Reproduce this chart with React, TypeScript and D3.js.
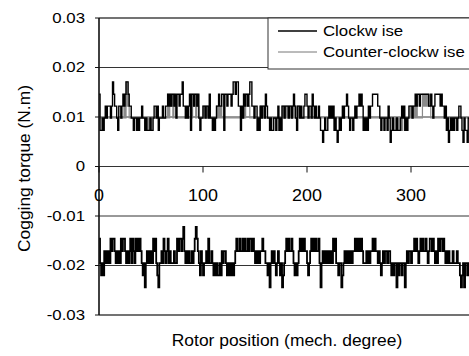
import React from "react";
import * as d3 from "d3";

// Rotor position (mech. degree), one sample per degree
const positions: number[] = d3.range(0, 361);

// Clockwise (upper band, black)
const cwUpper: number[] = [
  .0146,.0073,.0073,.0098,.0073,.0098,.0122,.0098,.0122,.0122,
  .0122,.0098,.0122,.0171,.0146,.0122,.0122,.0098,.0073,.0122,
  .0122,.0098,.0122,.0146,.0122,.0146,.0171,.0171,.0146,.0122,
  .0122,.0098,.0098,.0073,.0098,.0098,.0073,.0098,.0073,.0098,
  .0098,.0122,.0098,.0098,.0073,.0098,.0073,.0073,.0073,.0098,
  .0073,.0073,.0098,.0122,.0122,.0098,.0122,.0073,.0098,.0098,
  .0098,.0122,.0098,.0098,.0122,.0122,.0146,.0122,.0146,.0122,
  .0146,.0146,.0122,.0146,.0098,.0146,.0146,.0122,.0146,.0146,
  .0171,.0122,.0122,.0098,.0122,.0098,.0122,.0146,.0073,.0146,
  .0146,.0122,.0146,.0146,.0122,.0146,.0098,.0073,.0098,.0098,
  .0122,.0122,.0098,.0122,.0122,.0098,.0146,.0098,.0098,.0073,
  .0098,.0073,.0098,.0122,.0122,.0146,.0122,.0122,.0146,.0146,
  .0073,.0146,.0146,.0122,.0146,.0146,.0146,.0122,.0146,.0171,
  .0171,.0146,.0171,.0171,.0122,.0122,.0073,.0122,.0098,.0146,
  .0122,.0146,.0146,.0122,.0146,.0171,.0171,.0122,.0122,.0098,
  .0122,.0122,.0073,.0098,.0073,.0122,.0098,.0122,.0122,.0098,
  .0146,.0122,.0098,.0098,.0073,.0098,.0073,.0073,.0098,.0098,
  .0073,.0098,.0122,.0073,.0098,.0073,.0122,.0122,.0098,.0122,
  .0122,.0122,.0098,.0122,.0122,.0098,.0122,.0146,.0122,.0098,
  .0073,.0122,.0122,.0098,.0122,.0098,.0098,.0122,.0146,.0146,
  .0122,.0098,.0122,.0122,.0098,.0146,.0122,.0098,.0122,.0098,
  .0098,.0122,.0098,.0073,.0073,.0049,.0073,.0098,.0073,.0073,
  .0098,.0122,.0098,.0122,.0098,.0122,.0073,.0098,.0073,.0049,
  .0073,.0098,.0073,.0098,.0122,.0098,.0122,.0122,.0146,.0122,
  .0098,.0073,.0098,.0098,.0073,.0098,.0122,.0098,.0122,.0122,
  .0146,.0122,.0146,.0122,.0073,.0098,.0073,.0098,.0073,.0122,
  .0098,.0122,.0122,.0146,.0146,.0146,.0146,.0146,.0122,.0122,
  .0098,.0073,.0098,.0098,.0073,.0098,.0098,.0073,.0122,.0098,
  .0049,.0073,.0098,.0073,.0073,.0073,.0098,.0073,.0073,.0073,
  .0098,.0122,.0098,.0122,.0073,.0098,.0073,.0098,.0122,.0122,
  .0122,.0098,.0122,.0122,.0146,.0122,.0146,.0146,.0122,.0146,
  .0146,.0146,.0146,.0146,.0146,.0146,.0146,.0122,.0122,.0146,
  .0122,.0098,.0122,.0146,.0146,.0146,.0146,.0146,.0122,.0146,
  .0122,.0122,.0098,.0122,.0073,.0098,.0049,.0073,.0098,.0073,
  .0098,.0073,.0098,.0098,.0073,.0098,.0122,.0122,.0098,.0073,
  .0049,.0098,.0073,.0073,.0049,.0098,.0098,.0122,.0098,.0098,
  .0098,
];

// Counter-clockwise (upper band, grey)
const ccwUpper: number[] = [
  .0098,.0098,.0098,.0098,.0098,.0098,.0098,.0098,.0098,.0098,
  .0098,.0098,.0098,.0098,.0098,.0098,.0098,.0098,.0098,.0098,
  .0098,.0098,.0098,.0098,.0146,.0098,.0171,.0122,.0146,.0098,
  .0098,.0098,.0098,.0098,.0098,.0098,.0098,.0098,.0098,.0098,
  .0098,.0098,.0098,.0098,.0098,.0098,.0073,.0098,.0073,.0098,
  .0073,.0098,.0098,.0098,.0098,.0098,.0098,.0098,.0098,.0098,
  .0098,.0098,.0098,.0098,.0098,.0098,.0146,.0098,.0146,.0122,
  .0146,.0098,.0146,.0122,.0098,.0098,.0098,.0098,.0098,.0098,
  .0098,.0098,.0098,.0098,.0098,.0098,.0098,.0098,.0146,.0098,
  .0146,.0122,.0146,.0098,.0146,.0122,.0098,.0098,.0098,.0098,
  .0122,.0098,.0122,.0098,.0122,.0098,.0098,.0098,.0098,.0098,
  .0098,.0098,.0098,.0122,.0098,.0122,.0098,.0122,.0098,.0098,
  .0098,.0098,.0098,.0098,.0098,.0098,.0098,.0098,.0098,.0098,
  .0098,.0098,.0098,.0098,.0098,.0098,.0098,.0098,.0098,.0146,
  .0098,.0146,.0122,.0146,.0122,.0098,.0098,.0098,.0098,.0098,
  .0098,.0098,.0098,.0098,.0098,.0122,.0098,.0122,.0098,.0122,
  .0098,.0098,.0098,.0098,.0098,.0098,.0098,.0098,.0098,.0098,
  .0098,.0098,.0098,.0098,.0098,.0098,.0122,.0098,.0122,.0098,
  .0122,.0098,.0122,.0098,.0122,.0098,.0122,.0098,.0122,.0098,
  .0122,.0098,.0122,.0098,.0098,.0098,.0098,.0098,.0098,.0098,
  .0098,.0098,.0098,.0098,.0098,.0098,.0098,.0098,.0098,.0098,
  .0098,.0098,.0098,.0098,.0098,.0098,.0098,.0098,.0098,.0098,
  .0098,.0098,.0098,.0098,.0098,.0098,.0098,.0098,.0098,.0098,
  .0098,.0098,.0098,.0098,.0098,.0098,.0098,.0098,.0098,.0098,
  .0098,.0098,.0098,.0098,.0098,.0098,.0098,.0098,.0098,.0098,
  .0098,.0098,.0098,.0098,.0098,.0098,.0098,.0098,.0098,.0098,
  .0098,.0098,.0098,.0098,.0098,.0098,.0098,.0098,.0098,.0098,
  .0098,.0098,.0098,.0098,.0098,.0098,.0098,.0098,.0098,.0098,
  .0098,.0098,.0098,.0073,.0098,.0073,.0098,.0073,.0098,.0073,
  .0098,.0073,.0098,.0098,.0098,.0098,.0098,.0098,.0098,.0122,
  .0098,.0122,.0098,.0122,.0098,.0122,.0098,.0098,.0098,.0098,
  .0098,.0146,.0122,.0146,.0122,.0146,.0122,.0146,.0122,.0098,
  .0098,.0098,.0098,.0098,.0098,.0098,.0098,.0098,.0098,.0098,
  .0098,.0098,.0098,.0098,.0098,.0098,.0098,.0098,.0098,.0098,
  .0098,.0098,.0098,.0098,.0098,.0098,.0098,.0098,.0098,.0098,
  .0098,.0098,.0098,.0098,.0098,.0098,.0098,.0098,.0098,.0098,
  .0098,
];

// Lower band (black)
const cwLower: number[] = [
  -.0146,-.0195,-.022,-.0195,-.022,-.0171,-.0195,-.0171,-.0195,-.0171,
  -.0195,-.0146,-.0171,-.0146,-.0146,-.0171,-.0195,-.0171,-.0195,-.0171,
  -.0195,-.0146,-.0171,-.0146,-.0146,-.0171,-.0195,-.0171,-.0195,-.0171,
  -.0146,-.0195,-.0146,-.0171,-.0195,-.0146,-.0171,-.0146,-.0171,-.0146,
  -.0171,-.0195,-.022,-.0195,-.0244,-.0195,-.0171,-.0195,-.0171,-.0195,
  -.0171,-.0195,-.0146,-.0171,-.0146,-.0195,-.022,-.0244,-.0195,-.0195,
  -.0171,-.0195,-.0146,-.0171,-.0195,-.0171,-.0146,-.0195,-.0171,-.0195,
  -.0195,-.0195,-.0171,-.0195,-.0195,-.0146,-.0171,-.0146,-.0146,-.0171,
  -.0146,-.0122,-.0171,-.0195,-.0171,-.0195,-.0171,-.0195,-.0195,-.0171,
  -.0195,-.0171,-.0146,-.0122,-.0146,-.0171,-.0195,-.022,-.0171,-.0195,
  -.022,-.0195,-.0195,-.0171,-.0195,-.0146,-.0195,-.0195,-.0171,-.0195,
  -.022,-.0195,-.022,-.0195,-.022,-.022,-.0195,-.022,-.0171,-.0195,
  -.0171,-.0171,-.0195,-.022,-.0195,-.022,-.0195,-.022,-.0195,-.022,
  -.0195,-.0171,-.0146,-.0171,-.0171,-.0146,-.0171,-.0171,-.0146,-.0171,
  -.0146,-.0171,-.0171,-.0146,-.0171,-.0146,-.0146,-.0171,-.0146,-.0171,
  -.0195,-.0171,-.0195,-.0171,-.0195,-.0171,-.0171,-.0146,-.0171,-.0171,
  -.0195,-.0195,-.022,-.0195,-.0244,-.0195,-.0171,-.0195,-.0171,-.0195,
  -.022,-.0195,-.0171,-.0195,-.022,-.0195,-.0244,-.022,-.0195,-.0171,
  -.0146,-.0171,-.0146,-.0171,-.0171,-.0146,-.0171,-.0195,-.022,-.0195,
  -.022,-.0195,-.0171,-.0146,-.0171,-.0146,-.0171,-.0146,-.0171,-.0171,
  -.0195,-.022,-.0195,-.0171,-.0146,-.0171,-.0146,-.0171,-.0146,-.0171,
  -.0171,-.0146,-.0195,-.0244,-.0195,-.0171,-.0195,-.0171,-.0195,-.0171,
  -.0195,-.0171,-.0195,-.0171,-.0195,-.0146,-.0171,-.0146,-.0195,-.0195,
  -.022,-.0195,-.0195,-.0244,-.022,-.0195,-.0171,-.0195,-.0171,-.0195,
  -.0171,-.0195,-.0171,-.0195,-.0171,-.0171,-.0146,-.0171,-.0146,-.0171,
  -.0146,-.0171,-.0146,-.0171,-.0195,-.0195,-.0195,-.0171,-.0195,-.0171,
  -.0195,-.0171,-.0171,-.0146,-.0171,-.0146,-.0171,-.0171,-.0195,-.0171,
  -.0195,-.022,-.0195,-.0171,-.0195,-.0171,-.0171,-.0195,-.0171,-.0171,
  -.0195,-.022,-.0195,-.022,-.0195,-.0195,-.0244,-.0195,-.022,-.0195,
  -.0195,-.022,-.0195,-.0195,-.0244,-.0195,-.0171,-.0195,-.0171,-.0171,
  -.0195,-.0171,-.0171,-.0146,-.0171,-.0146,-.0171,-.0195,-.0171,-.0146,
  -.0171,-.0146,-.0171,-.0171,-.0146,-.0171,-.0195,-.0171,-.0146,-.0146,
  -.0171,-.0146,-.0171,-.0195,-.0171,-.0195,-.0146,-.0171,-.0146,-.0146,
  -.0171,-.0146,-.0171,-.0195,-.0171,-.0195,-.0171,-.0195,-.0195,-.0195,
  -.0171,-.0195,-.0195,-.0195,-.0171,-.0195,-.0195,-.022,-.0244,-.022,
  -.0195,-.0244,-.0195,-.0195,-.022,-.0195,-.0195,-.0171,-.0195,-.0195,
  -.0195,
];

const yTicks: number[] = [0.03, 0.02, 0.01, 0, -0.01, -0.02, -0.03];
const yTickLabels: string[] = ["0.03", "0.02", "0.01", "0", "-0.01", "-0.02", "-0.03"];
const xTicks: number[] = [0, 100, 200, 300];
const xTickLabels: string[] = ["0", "100", "200", "300"];
const legendLabels: string[] = ["Clockw ise", "Counter-clockw ise"];

const W = 469;
const H = 356;
const FONT = "'Liberation Sans', Arial, sans-serif";

function T({ x, y, s = 1, size, anchor = "start", rotate = 0, children }: any) {
  return (
    <text
      transform={`translate(${x},${y}) rotate(${rotate}) scale(${s},1)`}
      fontSize={size}
      fontFamily={FONT}
      textAnchor={anchor}
      dominantBaseline="central"
      fill="#000"
    >
      {children}
    </text>
  );
}

export default function App() {
  const x = d3.scaleLinear().domain([0, 360]).range([99, 473.4]);
  const y = d3.scaleLinear().domain([-0.03, 0.03]).range([315, 18]);
  const line = (vals: number[]) =>
    d3
      .line<number>()
      .x((_, i) => x(positions[i]))
      .y((v) => y(v))
      .curve(d3.curveStepAfter)(vals) || "";

  return (
    <svg
      width={W}
      height={H}
      style={{ position: "absolute", left: 0, top: 0, background: "#fff" }}
    >
      <rect x={0} y={0} width={W} height={H} fill="#fff" />
      {/* grid lines */}
      {yTicks.map((t) => (
        <line
          key={t}
          x1={x(0)}
          x2={W}
          y1={y(t)}
          y2={y(t)}
          stroke={t === 0.03 || t === -0.03 ? "#444" : "#333"}
          strokeWidth={t === 0.03 || t === -0.03 ? 1.6 : 1}
        />
      ))}
      {/* series */}
      <path d={line(ccwUpper)} fill="none" stroke="#8a8a8a" strokeWidth={1.2} />
      <path d={line(cwUpper)} fill="none" stroke="#000" strokeWidth={1.4} />
      <path d={line(cwLower)} fill="none" stroke="#000" strokeWidth={1.8} />
      {/* y axis */}
      <line x1={x(0)} x2={x(0)} y1={y(0.03)} y2={y(-0.03)} stroke="#111" strokeWidth={1.6} />
      {yTicks.map((t) => (
        <line key={"yt" + t} x1={x(0) - 4} x2={x(0)} y1={y(t)} y2={y(t)} stroke="#111" strokeWidth={1} />
      ))}
      {yTicks.map((t, i) => (
        <T key={"yl" + t} x={85} y={y(t)} s={1.2} size={14} anchor="end">
          {yTickLabels[i]}
        </T>
      ))}
      {/* x axis ticks at zero line */}
      {xTicks.map((t) => (
        <line key={"xt" + t} x1={x(t)} x2={x(t)} y1={y(0)} y2={y(0) + 6} stroke="#111" strokeWidth={1} />
      ))}
      {xTicks.map((t, i) => (
        <T key={"xl" + t} x={x(t)} y={195.5} s={1.12} size={16} anchor="middle">
          {xTickLabels[i]}
        </T>
      ))}
      {/* axis titles */}
      <T x={287} y={341} s={1.09} size={16} anchor="middle">
        Rotor position (mech. degree)
      </T>
      <T x={25} y={168.5} s={1.085} size={16} anchor="middle" rotate={-90}>
        Cogging torque (N.m)
      </T>
      {/* legend */}
      <rect x={268} y={y(0.03)} width={220} height={51} fill="#fff" stroke="#333" strokeWidth={1} />
      <line x1={278} x2={317} y1={31} y2={31} stroke="#000" strokeWidth={1.6} />
      <line x1={278} x2={317} y1={52} y2={52} stroke="#777" strokeWidth={1} />
      <T x={323} y={30.5} s={1.12} size={15}>
        {legendLabels[0]}
      </T>
      <T x={323} y={51.5} s={1.12} size={15}>
        {legendLabels[1]}
      </T>
    </svg>
  );
}
